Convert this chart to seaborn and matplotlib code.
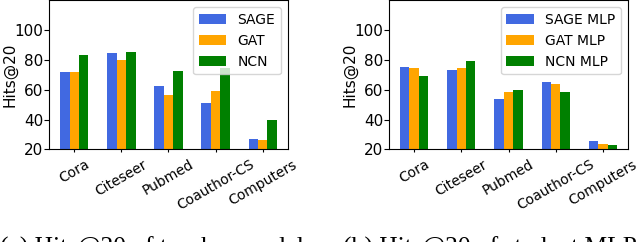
import matplotlib
matplotlib.use("Agg")
import matplotlib.pyplot as plt
import seaborn as sns
import pandas as pd

datasets = ["Cora", "Citeseer", "Pubmed", "Coauthor-CS", "Computers"]

teacher_models = ["SAGE", "GAT", "NCN"]
teacher_sage = [72.0, 84.9, 62.6, 51.1, 27.1]
teacher_gat = [72.0, 80.0, 56.5, 59.4, 26.5]
teacher_ncn = [83.4, 85.4, 72.9, 74.9, 39.9]

student_models = ["SAGE MLP", "GAT MLP", "NCN MLP"]
student_sage = [75.3, 73.3, 53.8, 65.2, 25.6]
student_gat = [74.7, 74.7, 58.5, 63.9, 23.6]
student_ncn = [69.3, 79.4, 59.9, 58.5, 22.9]

colors = ["#4169E1", "#FFA500", "#008000"]
yticks = [20, 40, 60, 80, 100]

captions = ["(a) Hits@20 of teacher models", "(b) Hits@20 of student MLPs"]


def make_df(models, series):
    rows = []
    for m, vals in zip(models, series):
        for d, v in zip(datasets, vals):
            rows.append({"Dataset": d, "Model": m, "Hits@20": v})
    return pd.DataFrame(rows)


plt.rcParams["font.family"] = ["DejaVu Sans"]
plt.rcParams["font.size"] = 10

fig = plt.figure(figsize=(6.38, 2.42), dpi=100)
ax1 = fig.add_axes([49.3 / 638, 1 - 149.3 / 242, 238.4 / 638, 148.8 / 242])
ax2 = fig.add_axes([389 / 638, 1 - 149.3 / 242, 239 / 638, 148.8 / 242])

panels = [
    (ax1, teacher_models, [teacher_sage, teacher_gat, teacher_ncn], -0.133),
    (ax2, student_models, [student_sage, student_gat, student_ncn], -0.131),
]

for ax, models, series, lx in panels:
    df = make_df(models, series)
    sns.barplot(data=df, x="Dataset", y="Hits@20", hue="Model",
                order=datasets, hue_order=models,
                palette=colors, saturation=1, width=0.6, gap=0,
                errorbar=None, ax=ax, linewidth=0)
    ax.set_xlim(-0.53, 4.53)
    ax.set_ylim(20, 120)
    ax.set_yticks(yticks)
    ax.set_xlabel("")
    ax.set_ylabel("Hits@20", fontsize=11)
    ax.yaxis.set_label_coords(lx, 0.5)
    ax.tick_params(axis="x", labelsize=10, length=2.5)
    ax.tick_params(axis="y", labelsize=11, pad=0.8)
    for lab in ax.get_xticklabels():
        lab.set_rotation(30)
        lab.set_ha("center")
    for s in ax.spines.values():
        s.set_visible(True)
        s.set_color("black")
    ax.legend(loc="upper right", fontsize=10, title=None)

fig.text(157 / 638, 1 - 254.7 / 242, captions[0], ha="center", va="baseline",
         fontsize=18.4, family=["Liberation Serif"])
fig.text(495 / 638, 1 - 254.7 / 242, captions[1], ha="center", va="baseline",
         fontsize=18.4, family=["Liberation Serif"])

fig.savefig("out.png", dpi=100)
